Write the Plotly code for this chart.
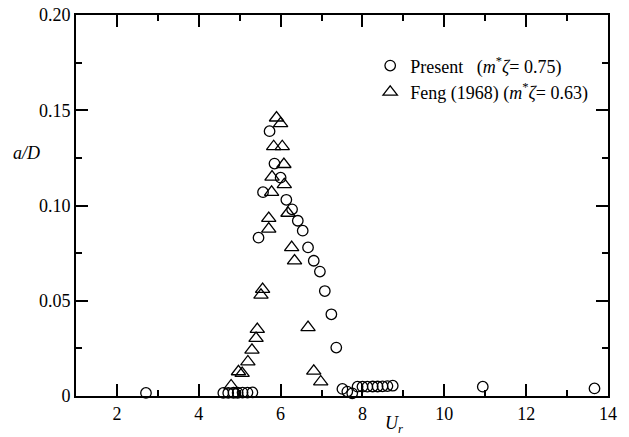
import plotly.graph_objects as go

# Present (m*zeta = 0.75)
present_ur = [2.71, 4.60, 4.72, 4.85, 4.95, 5.07, 5.19, 5.31,
              5.46, 5.57, 5.73, 5.85, 6.00, 6.14, 6.28, 6.42, 6.54,
              6.67, 6.81, 6.96, 7.08, 7.24, 7.36,
              7.51, 7.63, 7.75, 7.88, 8.00, 8.12, 8.25, 8.37, 8.49, 8.61, 8.74,
              10.94, 13.67]
present_ad = [0.0016, 0.0016, 0.0016, 0.0017, 0.0017, 0.0018, 0.0018, 0.0019,
              0.0831, 0.107, 0.139, 0.122, 0.1146, 0.103, 0.098, 0.092, 0.0868,
              0.078, 0.071, 0.0653, 0.0551, 0.0429, 0.0254,
              0.0037, 0.0023, 0.0014, 0.0049, 0.0049, 0.0049, 0.0050, 0.0050, 0.0051, 0.0052, 0.0054,
              0.0049, 0.0040]

# Feng (1968) (m*zeta = 0.63)
feng_ur = [4.79, 4.97, 5.06, 5.20, 5.30, 5.40, 5.43, 5.52, 5.56,
           5.71, 5.71, 5.78, 5.79, 5.83, 5.90, 6.00, 6.04, 6.08, 6.09,
           6.18, 6.27, 6.34, 6.67, 6.81, 6.98]
feng_ad = [0.0054, 0.0128, 0.0119, 0.018, 0.0241, 0.0303, 0.035, 0.053, 0.056,
           0.0877, 0.0933, 0.107, 0.115, 0.131, 0.146, 0.143, 0.131, 0.1216, 0.111,
           0.096, 0.078, 0.071, 0.036, 0.0131, 0.0075]

x_ticks = [2, 4, 6, 8, 10, 12, 14]
x_ticktext = ["2", "4", "6", "8", "10", "12", "14"]
x_minor = [3, 5, 7, 9, 11, 13]
y_ticks = [0, 0.05, 0.10, 0.15, 0.20]
y_ticktext = ["0", "0.05", "0.10", "0.15", "0.20"]
y_minor = [0.025, 0.075, 0.125, 0.175]

X_RANGE = [1, 14]
Y_RANGE = [0, 0.2]

FONT = "Liberation Serif"

# page body has an 8px default margin, so the figure is offset by 8px
W, H = 621, 429
L, R, T, B = 68, 21, 7, 41
PW, PH = W - L - R, H - T - B

fig = go.Figure()
fig.add_trace(go.Scatter(
    x=present_ur, y=present_ad, mode="markers",
    name="Present\u00a0\u00a0\u00a0(<i>m</i><sup>*</sup><i>ζ</i>= 0.75)",
    marker=dict(symbol="circle-open", size=10.5, color="black", line=dict(width=1.3, color="black")),
    cliponaxis=False,
))
fig.add_trace(go.Scatter(
    x=feng_ur, y=feng_ad, mode="markers",
    name="Feng (1968) (<i>m</i><sup>*</sup><i>ζ</i>= 0.63)",
    marker=dict(symbol="triangle-up-open", size=12.5, color="black", line=dict(width=1.3, color="black")),
    cliponaxis=False,
))

axis_common = dict(
    showline=True, linecolor="#000000", linewidth=2, mirror="ticks",
    ticks="inside", ticklen=12, tickwidth=1.5, tickcolor="#000000",
    showgrid=False, zeroline=False, ticklabeloverflow="allow", automargin=False,
    layer="above traces",
    tickfont=dict(family=FONT, size=18, color="black"),
)

fig.update_layout(
    xaxis=dict(range=X_RANGE, tickmode="array", tickvals=x_ticks, ticktext=x_ticktext,
               minor=dict(tickmode="array", tickvals=x_minor, ticks="inside", ticklen=6,
                          tickwidth=1.5, tickcolor="#000000", showgrid=False),
               **axis_common),
    yaxis=dict(range=Y_RANGE, tickmode="array", tickvals=y_ticks, ticktext=y_ticktext,
               minor=dict(tickmode="array", tickvals=y_minor, ticks="inside", ticklen=6,
                          tickwidth=1.5, tickcolor="#000000", showgrid=False),
               **axis_common),
)

fig.update_layout(
    width=W, height=H, autosize=False,
    margin=dict(l=L, r=R, t=T, b=B, pad=0),
    paper_bgcolor="white", plot_bgcolor="white",
    font=dict(family=FONT, size=18, color="black"),
    showlegend=True,
    legend=dict(x=0.553, y=0.915, xanchor="left", yanchor="top",
                bgcolor="rgba(0,0,0,0)", borderwidth=0,
                font=dict(family=FONT, size=18, color="black"),
                itemwidth=30, tracegroupgap=0),
    annotations=[
        dict(text="<i>a/D</i>", xref="paper", yref="paper",
             x=(26 - 76) / PW, y=1 - (153 - 15) / PH,
             xanchor="center", yanchor="middle", showarrow=False,
             font=dict(family=FONT, size=18, color="black")),
        dict(text="<i>U<sub>r</sub></i>", xref="paper", yref="paper",
             x=(394 - 76) / PW, y=-(424 - 396) / PH,
             xanchor="center", yanchor="middle", showarrow=False,
             font=dict(family=FONT, size=18, color="black")),
    ],
)

fig.write_html("out.html")
